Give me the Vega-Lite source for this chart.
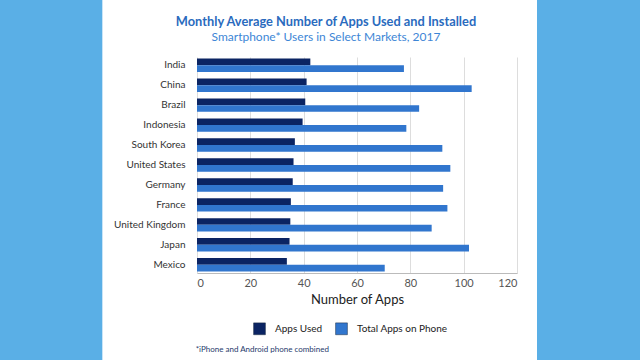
{
  "$schema": "https://vega.github.io/schema/vega-lite/v6.json",
  "autosize": {"type": "none"},
  "width": 320,
  "height": 216,
  "padding": {"left": 197, "top": 57, "right": 123, "bottom": 87},
  "background": "#ffffff",
  "title": {
    "text": "Monthly Average Number of Apps Used and Installed",
    "subtitle": "Smartphone* Users in Select Markets, 2017",
    "anchor": "middle",
    "frame": "group",
    "dx": -31,
    "offset": -43,
    "font": "Lato",
    "fontSize": 12.8,
    "fontWeight": "bold",
    "color": "#2A6BBE",
    "subtitleFont": "Lato",
    "subtitleFontSize": 12,
    "subtitleColor": "#3D86D6",
    "subtitlePadding": 3
  },
  "config": {
    "view": {"stroke": null},
    "font": "Lato"
  },
  "resolve": {"scale": {"y": "independent"}, "axis": {"y": "independent"}},
  "layer": [
    {
      "data": {"values": [
        {"country": "India", "series": "Apps Used", "value": 42.5},
        {"country": "India", "series": "Total Apps on Phone", "value": 77.6},
        {"country": "China", "series": "Apps Used", "value": 41.1},
        {"country": "China", "series": "Total Apps on Phone", "value": 103},
        {"country": "Brazil", "series": "Apps Used", "value": 40.6},
        {"country": "Brazil", "series": "Total Apps on Phone", "value": 83.3},
        {"country": "Indonesia", "series": "Apps Used", "value": 39.6},
        {"country": "Indonesia", "series": "Total Apps on Phone", "value": 78.5},
        {"country": "South Korea", "series": "Apps Used", "value": 36.7},
        {"country": "South Korea", "series": "Total Apps on Phone", "value": 92},
        {"country": "United States", "series": "Apps Used", "value": 36.2},
        {"country": "United States", "series": "Total Apps on Phone", "value": 95},
        {"country": "Germany", "series": "Apps Used", "value": 35.9},
        {"country": "Germany", "series": "Total Apps on Phone", "value": 92.3},
        {"country": "France", "series": "Apps Used", "value": 35.2},
        {"country": "France", "series": "Total Apps on Phone", "value": 93.9},
        {"country": "United Kingdom", "series": "Apps Used", "value": 35},
        {"country": "United Kingdom", "series": "Total Apps on Phone", "value": 88},
        {"country": "Japan", "series": "Apps Used", "value": 34.7},
        {"country": "Japan", "series": "Total Apps on Phone", "value": 102},
        {"country": "Mexico", "series": "Apps Used", "value": 33.7},
        {"country": "Mexico", "series": "Total Apps on Phone", "value": 70.4}
      ]},
      "mark": {"type": "bar"},
      "encoding": {
        "y": {
          "field": "country", "type": "nominal",
          "sort": ["India", "China", "Brazil", "Indonesia", "South Korea", "United States", "Germany", "France", "United Kingdom", "Japan", "Mexico"],
          "scale": {"paddingInner": 0.33, "paddingOuter": 0.08},
          "axis": {"title": null, "ticks": false, "domain": false, "labelPadding": 12, "labelFontSize": 10, "labelColor": "#333333", "labelFont": "Lato"}
        },
        "yOffset": {"field": "series", "type": "nominal", "sort": ["Apps Used", "Total Apps on Phone"], "scale": {"paddingInner": 0, "paddingOuter": 0}},
        "x": {
          "field": "value", "type": "quantitative",
          "scale": {"domain": [0, 120], "nice": false},
          "axis": {
            "title": "Number of Apps", "titleFontSize": 13, "titleFontWeight": "normal", "titleColor": "#222222", "titlePadding": 5, "titleFont": "Lato",
            "values": [0, 20, 40, 60, 80, 100, 120], "labelOverlap": false,
            "grid": true, "gridColor": "#dddddd", "ticks": false, "domainColor": "#bbbbbb",
            "labelFontSize": 11, "labelColor": "#555555", "labelPadding": 4, "labelFont": "Lato"
          }
        },
        "color": {
          "field": "series", "type": "nominal",
          "scale": {"domain": ["Apps Used", "Total Apps on Phone"], "range": ["#0B2463", "#3176CE"]},
          "legend": {
            "title": null, "orient": "none", "direction": "horizontal",
            "legendX": 56, "legendY": 265,
            "symbolType": "square", "symbolSize": 140, "symbolStrokeColor": "#1a2a40", "symbolStrokeWidth": 0.5,
            "labelFontSize": 10, "labelColor": "#222222", "labelFont": "Lato", "labelOffset": 9,
            "columnPadding": 11
          }
        }
      }
    },
    {
      "data": {"values": [{"x1": -90, "x2": -35.5, "y1": -1.5, "y2": 1.2639}, {"x1": 127.5, "x2": 190, "y1": -1.5, "y2": 1.2639}]},
      "mark": {"type": "rect", "clip": false, "color": "#5AAFE6"},
      "encoding": {
        "x": {"field": "x1", "type": "quantitative"},
        "x2": {"field": "x2"},
        "y": {"field": "y1", "type": "quantitative", "scale": {"domain": [0, 1]}, "axis": null},
        "y2": {"field": "y2"}
      }
    },
    {
      "data": {"values": [{"tx": -0.5, "ty": -0.355, "label": "*iPhone and Android phone combined"}]},
      "mark": {"type": "text", "clip": false, "align": "left", "baseline": "middle", "fontSize": 8, "color": "#1F3A6B", "font": "Lato"},
      "encoding": {
        "x": {"field": "tx", "type": "quantitative"},
        "y": {"field": "ty", "type": "quantitative", "scale": {"domain": [0, 1]}, "axis": null},
        "text": {"field": "label"}
      }
    }
  ]
}
